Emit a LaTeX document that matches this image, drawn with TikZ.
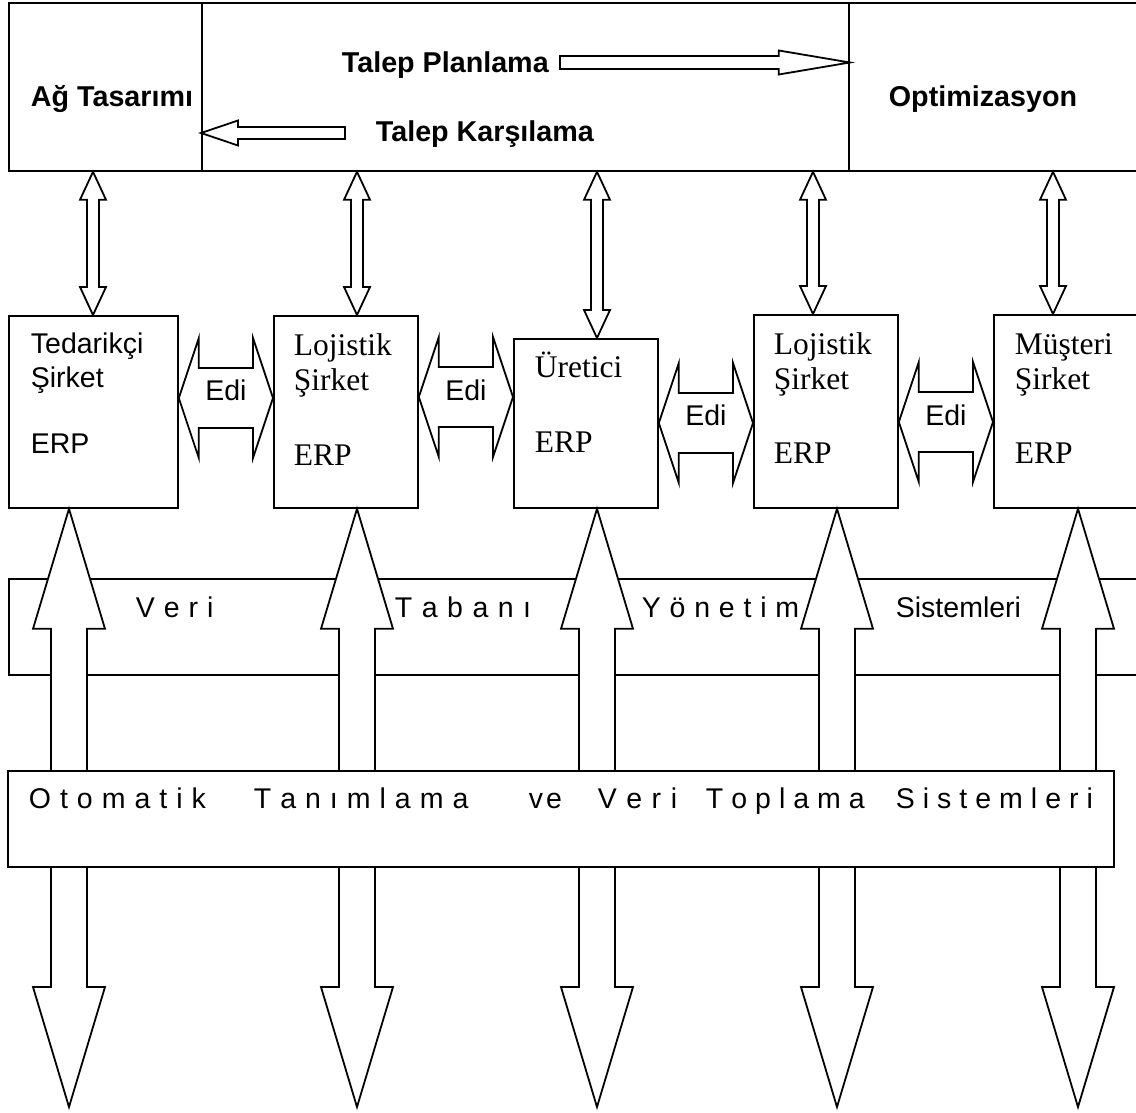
\documentclass[tikz,border=0pt]{standalone}
\usepackage{fontspec}
\setmainfont{Liberation Serif}
\setsansfont{Liberation Sans}
\usetikzlibrary{calc}

\newdimen\lsgap
\def\lsend{\lsend}
\def\lsloop#1{\ifx#1\lsend\else#1\hskip\lsgap\relax\expandafter\lsloop\fi}
\newcommand\lsword[2]{\lsgap=#1\relax\lsloop#2\lsend}

% vertical block double arrow: #1 top tip, #2 bottom tip, #3 head length, #4 head half width, #5 shaft half width
\newcommand\blkV[5]{%
 \draw[blk] (#1) -- ($(#1)+(#4,#3)$) -- ($(#1)+(#5,#3)$) -- ($(#2)+(#5,-#3)$) -- ($(#2)+(#4,-#3)$) -- (#2)
   -- ($(#2)+(-#4,-#3)$) -- ($(#2)+(-#5,-#3)$) -- ($(#1)+(-#5,#3)$) -- ($(#1)+(-#4,#3)$) -- cycle;}
% horizontal block double arrow: #1 left tip, #2 right tip, #3 head length, #4 head half height, #5 shaft half height
\newcommand\blkH[5]{%
 \draw[blk] (#1) -- ($(#1)+(#3,-#4)$) -- ($(#1)+(#3,-#5)$) -- ($(#2)+(-#3,-#5)$) -- ($(#2)+(-#3,-#4)$) -- (#2)
   -- ($(#2)+(-#3,#4)$) -- ($(#2)+(-#3,#5)$) -- ($(#1)+(#3,#5)$) -- ($(#1)+(#3,#4)$) -- cycle;}

\begin{document}
\begin{tikzpicture}[x=1pt,y=-1pt,line width=1.8pt,line join=miter,
  box/.style={draw,fill=white,inner sep=0pt,anchor=north west},
  blk/.style={draw,fill=white,line join=miter},
  sans/.style={font=\fontsize{28.5}{34}\selectfont\sffamily,inner sep=0pt,anchor=base west},
  bsans/.style={font=\fontsize{28.7}{34}\selectfont\sffamily\bfseries,inner sep=0pt,anchor=base west},
  serif/.style={font=\fontsize{31.5}{36}\selectfont\rmfamily,inner sep=0pt,anchor=base west}]

\fill[white] (0,0) rectangle (1136,1113);
\path[use as bounding box,clip] (0,0) rectangle (1136,1113);

% ---- top band ----
\node[box,minimum width=193pt,minimum height=168pt] (tb1) at (8,2) {};
\node[box,minimum width=647pt,minimum height=168pt] (tb2) at (201,2) {};
\node[box,minimum width=310pt,minimum height=168pt] (tb3) at (848,2) {};

\node[bsans] (tAg)  at (30,107)  {Ağ Tasarımı};
\node[bsans] (tTP)  at (341,73)  {Talep Planlama};
\node[bsans] (tTK)  at (375,142) {Talep Karşılama};
\node[bsans] (tOpt) at (888,107) {Optimizasyon};

% Talep Planlama arrow (to the right)
\coordinate (tpT) at (560,62.5);
\coordinate (tpH) at (tb2.east |- 0,62.5);
\draw[blk] ($(tpT)+(0,-6.5)$) -- ($(tpH)+(-71,-6.5)$) -- ($(tpH)+(-71,-12)$) -- (tpH)
  -- ($(tpH)+(-71,12)$) -- ($(tpH)+(-71,6.5)$) -- ($(tpT)+(0,6.5)$) -- cycle;
% Talep Karsilama arrow (to the left)
\coordinate (tkT) at (345,133);
\coordinate (tkH) at (tb2.west |- 0,133);
\draw[blk] ($(tkT)+(0,-6)$) -- ($(tkH)+(37,-6)$) -- ($(tkH)+(37,-12.5)$) -- (tkH)
  -- ($(tkH)+(37,12.5)$) -- ($(tkH)+(37,6)$) -- ($(tkT)+(0,6)$) -- cycle;

% ---- ERP boxes ----
\node[box,minimum width=169pt,minimum height=192pt] (b1) at (8,315) {};
\node[box,minimum width=144pt,minimum height=192pt] (b2) at (273,315) {};
\node[box,minimum width=144pt,minimum height=169pt] (b3) at (513,338) {};
\node[box,minimum width=144pt,minimum height=193pt] (b4) at (753,314) {};
\node[box,minimum width=160pt,minimum height=193pt] (b5) at (993,314) {};

\node[sans] (b1a) at (30,353) {Tedarikçi};
\node[sans] (b1b) at (30,387) {Şirket};
\node[sans] (b1c) at (30,453) {ERP};
\node[serif] (b2a) at (293,355) {Lojistik};
\node[serif] (b2b) at (293,390) {Şirket};
\node[serif] (b2c) at (293,465) {ERP};
\node[serif] (b3a) at (534,377) {Üretici};
\node[serif] (b3c) at (534,452) {ERP};
\node[serif] (b4a) at (773,354) {Lojistik};
\node[serif] (b4b) at (773,389) {Şirket};
\node[serif] (b4c) at (773,463) {ERP};
\node[serif] (b5a) at (1014,354) {Müşteri};
\node[serif] (b5b) at (1014,389) {Şirket};
\node[serif] (b5c) at (1014,463) {ERP};

% ---- top vertical double arrows ----
\coordinate (u1t) at (93,0 |- tb1.south);   \coordinate (u1b) at (93,0 |- b1.north);
\coordinate (u2t) at (357,0 |- tb2.south);  \coordinate (u2b) at (357,0 |- b2.north);
\coordinate (u3t) at (597,0 |- tb2.south);  \coordinate (u3b) at (597,0 |- b3.north);
\coordinate (u4t) at (813,0 |- tb2.south);  \coordinate (u4b) at (813,0 |- b4.north);
\coordinate (u5t) at (1053,0 |- tb3.south); \coordinate (u5b) at (1053,0 |- b5.north);
\blkV{u1t}{u1b}{28}{13}{6}
\blkV{u2t}{u2b}{28}{13}{6}
\blkV{u3t}{u3b}{28}{13}{6}
\blkV{u4t}{u4b}{28}{13}{6}
\blkV{u5t}{u5b}{28}{13}{6}

% ---- Edi arrows ----
\coordinate (e1l) at (b1.east |- 0,398); \coordinate (e1r) at (b2.west |- 0,398);
\coordinate (e2l) at (b2.east |- 0,397); \coordinate (e2r) at (b3.west |- 0,397);
\coordinate (e3l) at (b3.east |- 0,423); \coordinate (e3r) at (b4.west |- 0,423);
\coordinate (e4l) at (b4.east |- 0,422); \coordinate (e4r) at (b5.west |- 0,422);
\blkH{e1l}{e1r}{20}{60}{30}
\blkH{e2l}{e2r}{20}{60}{30}
\blkH{e3l}{e3r}{20}{60}{30}
\blkH{e4l}{e4r}{20}{60}{30}
\node[sans,anchor=base] (edi1) at ($(e1l)!0.5!(e1r)+(0,2)$) {Edi};
\node[sans,anchor=base] (edi2) at ($(e2l)!0.5!(e2r)+(0,3)$) {Edi};
\node[sans,anchor=base] (edi3) at ($(e3l)!0.5!(e3r)+(0,2)$) {Edi};
\node[sans,anchor=base] (edi4) at ($(e4l)!0.5!(e4r)+(0,3)$) {Edi};

% ---- Veri Tabani Yonetim Sistemleri band ----
\node[box,minimum width=1150pt,minimum height=96pt] (vt) at (8,578) {};
\node[sans] (vt1) at (135,617) {\lsword{9pt}{Veri}};
\node[sans] (vt2) at (394,617) {\lsword{9.5pt}{Tabanı}};
\node[sans] (vt3) at (641,617) {\lsword{8.8pt}{Yönetim}};
\node[sans] (vt4) at (895,617) {Sistemleri};

% ---- big vertical arrows ----
\coordinate (d1t) at (69,0 |- b1.south);   \coordinate (d1b) at (69,1107);
\coordinate (d2t) at (357,0 |- b2.south);  \coordinate (d2b) at (357,1107);
\coordinate (d3t) at (597,0 |- b3.south);  \coordinate (d3b) at (597,1107);
\coordinate (d4t) at (837,0 |- b4.south);  \coordinate (d4b) at (837,1107);
\coordinate (d5t) at (1078,0 |- b5.south); \coordinate (d5b) at (1078,1107);
\blkV{d1t}{d1b}{120}{36}{18}
\blkV{d2t}{d2b}{120}{36}{18}
\blkV{d3t}{d3b}{120}{36}{18}
\blkV{d4t}{d4b}{120}{36}{18}
\blkV{d5t}{d5b}{120}{36}{18}

% ---- Otomatik band ----
\node[box,minimum width=1106pt,minimum height=96pt] (ot) at (7,770) {};
\node[sans] (ot1) at (28,808)  {\lsword{9pt}{Otomatik}};
\node[sans] (ot2) at (253,808) {\lsword{9pt}{Tanımlama}};
\node[sans] (ot3) at (528,808) {\lsword{3pt}{ve}};
\node[sans] (ot4) at (597,808) {\lsword{9.5pt}{Veri}};
\node[sans] (ot5) at (705,808) {\lsword{8pt}{Toplama}};
\node[sans] (ot6) at (895,808) {\lsword{8pt}{Sistemleri}};
\end{tikzpicture}
\end{document}
